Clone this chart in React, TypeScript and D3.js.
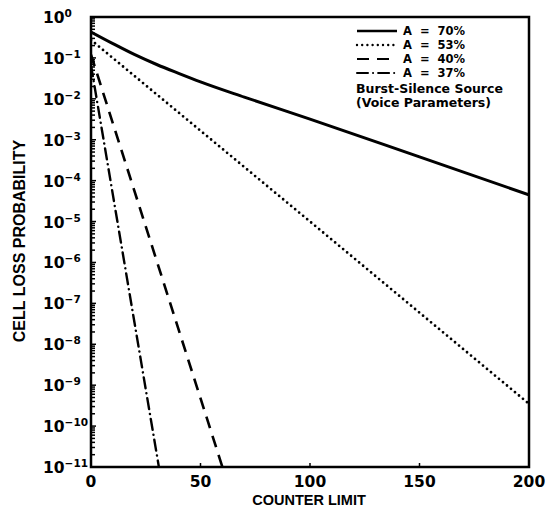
import React from "react";
import * as d3 from "d3";

// counter limit values and cell loss probability per source load
const solidX = [0, 10, 20, 30, 40, 50, 70, 100, 150, 200];
const solidY = [0.43, 0.224, 0.12, 0.069, 0.042, 0.026, 0.011, 3.2e-3, 3.8e-4, 4.5e-5];
const dottedX = [0, 100, 200];
const dottedY = [0.275, 1.0e-5, 3.5e-10];
const dashedX = [0, 60];
const dashedY = [0.12, 1e-11];
const dashDotX = [0, 31];
const dashDotY = [0.066, 1e-11];

const legendLabels = ["A  =  70%", "A  =  53%", "A  =  40%", "A  =  37%"];
const legendNote = ["Burst-Silence Source", "(Voice Parameters)"];
const xTicks = [0, 50, 100, 150, 200];
const yExponents = [0, -1, -2, -3, -4, -5, -6, -7, -8, -9, -10, -11];

const W = 548, H = 515;
const margin = { left: 91, right: 19, top: 17, bottom: 48 };
const tickFont = "'DejaVu Sans', sans-serif";
const titleFont = "'Liberation Sans', Arial, sans-serif";

export default function App() {
  const x = d3.scaleLinear().domain([0, 200]).range([margin.left, W - margin.right]);
  const y = d3.scaleLog().domain([1e-11, 1]).range([H - margin.bottom, margin.top]);

  const line = d3.line<[number, number]>()
    .x(d => x(d[0]))
    .y(d => y(d[1]));
  const smooth = d3.line<[number, number]>()
    .x(d => x(d[0]))
    .y(d => y(d[1]))
    .curve(d3.curveMonotoneX);

  const zip = (xs: number[], ys: number[]) => xs.map((v, i) => [v, ys[i]] as [number, number]);

  const series = [
    { d: smooth(zip(solidX, solidY)), dash: undefined as string | undefined, cap: "butt", w: 3 },
    { d: line(zip(dottedX, dottedY)), dash: "0 5.2", cap: "round", w: 2.8 },
    { d: line(zip(dashedX, dashedY)), dash: "12 8", cap: "butt", w: 2.6 },
    { d: line(zip(dashDotX, dashDotY)), dash: "11 5 0.1 5", cap: "round", w: 2.4 },
  ];

  // minor log ticks
  const minor: number[] = [];
  for (let e = -11; e < 0; e++) {
    for (let k = 2; k <= 9; k++) minor.push(k * Math.pow(10, e));
  }

  const [x0, x1] = x.range();
  const [yb, yt] = y.range();

  return (
    <svg width={W} height={H} style={{ display: "block", position: "absolute", left: 0, top: 0, background: "#fff" }}>
      <defs>
        <clipPath id="plot">
          <rect x={x0} y={yt} width={x1 - x0} height={yb - yt} />
        </clipPath>
      </defs>

      <g clipPath="url(#plot)">
        {series.map((s, i) => (
          <path key={i} d={s.d || ""} fill="none" stroke="#000" strokeWidth={s.w}
            strokeDasharray={s.dash} strokeLinecap={s.cap as any} />
        ))}
      </g>

      {/* minor ticks on left axis */}
      {minor.map((v, i) => (
        <line key={"m" + i} x1={x0} x2={x0 + 4} y1={y(v)} y2={y(v)} stroke="#000" strokeWidth={1.5} />
      ))}
      {yExponents.map(e => (
        <line key={"M" + e} x1={x0} x2={x0 + 5} y1={y(Math.pow(10, e))} y2={y(Math.pow(10, e))} stroke="#000" strokeWidth={1.5} />
      ))}
      {xTicks.slice(1, -1).map(t => (
        <line key={"xt" + t} x1={x(t)} x2={x(t)} y1={yb} y2={yb - 4} stroke="#000" strokeWidth={1.5} />
      ))}

      {/* frame */}
      <rect x={x0} y={yt} width={x1 - x0} height={yb - yt} fill="none" stroke="#000" strokeWidth={2.5} />

      {/* y tick labels */}
      {yExponents.map(e => (
        <text key={"yl" + e} x={43} y={y(Math.pow(10, e)) + 6} fontFamily={tickFont} fontWeight="bold" fontSize={15.5}>
          10<tspan dy={-6} fontSize={10.5}>{e === 0 ? "0" : "\u2212" + Math.abs(e)}</tspan>
        </text>
      ))}

      {/* x tick labels */}
      {xTicks.map(t => (
        <text key={"xl" + t} x={x(t)} y={487} textAnchor="middle" fontFamily={tickFont} fontWeight="bold" fontSize={15.5}>
          {t}
        </text>
      ))}

      {/* axis titles */}
      <text x={(x0 + x1) / 2 - 1} y={505} textAnchor="middle" fontFamily={titleFont} fontWeight="bold" fontSize={14.5}>
        COUNTER LIMIT
      </text>
      <text transform={`translate(25,${(yt + yb) / 2 - 1}) rotate(-90)`} textAnchor="middle"
        fontFamily={titleFont} fontWeight="bold" fontSize={16}>
        CELL LOSS PROBABILITY
      </text>

      {/* legend */}
      {legendLabels.map((lab, i) => {
        const ly = 31 + i * 14;
        const s = series[i];
        return (
          <g key={"lg" + i}>
            <line x1={357} x2={397} y1={ly} y2={ly} stroke="#000" strokeWidth={s.w - 0.4}
              strokeDasharray={s.dash} strokeLinecap={s.cap as any} />
            <text x={403} y={ly + 4} fontFamily={tickFont} fontWeight="bold" fontSize={11.5} style={{ whiteSpace: "pre" }}>
              {lab}
            </text>
          </g>
        );
      })}
      {legendNote.map((t, i) => (
        <text key={"ln" + i} x={356} y={93 + i * 14} fontFamily={tickFont} fontWeight="bold" fontSize={12.5}>
          {t}
        </text>
      ))}
    </svg>
  );
}
